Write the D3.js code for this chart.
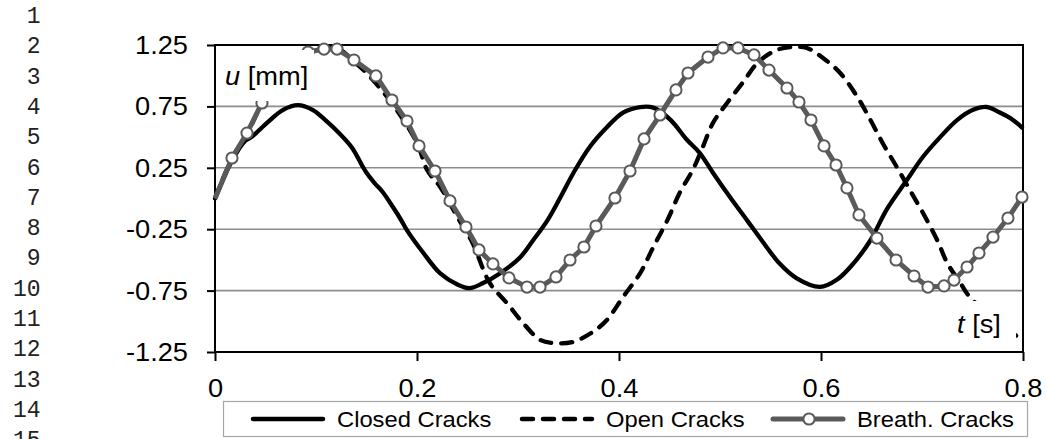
<!DOCTYPE html>
<html><head><meta charset="utf-8">
<script src="https://cdn.jsdelivr.net/npm/d3@7"></script>
<style>body{margin:0;background:#fff}svg{display:block}</style>
</head><body><svg id="c" width="1047" height="439"></svg>
<script>
// ---- data ----
const lineNumbers = ["1","2","3","4","5","6","7","8","9","10","11","12","13","14","15"];
const xTicks = [0, 0.2, 0.4, 0.6, 0.8];
const yTicks = [1.25, 0.75, 0.25, -0.25, -0.75, -1.25];
const seriesNames = ["Closed Cracks", "Open Cracks", "Breath. Cracks"];

const closedT = [0,0.017,0.030,0.036,0.052,0.067,0.082,0.097,0.109,0.122,0.136,0.1455,0.150,0.158,0.166,0.173,0.180,0.186,0.190,0.206,0.223,0.240,0.252,0.265,0.282,0.302,0.315,0.329,0.342,0.355,0.371,0.388,0.404,0.421,0.434,0.451,0.467,0.480,0.493,0.510,0.527,0.543,0.559,0.576,0.599,0.616,0.632,0.649,0.665,0.685,0.701,0.718,0.735,0.750,0.764,0.777,0.790,0.800];
const closedU = [0,0.31,0.47,0.50,0.62,0.72,0.76,0.72,0.64,0.54,0.41,0.27,0.21,0.126,0.053,-0.03,-0.118,-0.20,-0.257,-0.44,-0.61,-0.70,-0.73,-0.69,-0.61,-0.48,-0.34,-0.18,0.01,0.21,0.42,0.58,0.70,0.745,0.74,0.64,0.48,0.37,0.21,0.01,-0.18,-0.36,-0.53,-0.65,-0.72,-0.66,-0.53,-0.34,-0.09,0.15,0.34,0.50,0.64,0.72,0.745,0.70,0.64,0.57];

const openT = [0,0.017,0.032,0.047,0.062,0.077,0.092,0.108,0.124,0.137,0.147,0.173,0.200,0.210,0.223,0.240,0.255,0.272,0.289,0.305,0.322,0.335,0.354,0.374,0.388,0.404,0.421,0.434,0.448,0.460,0.473,0.483,0.493,0.507,0.523,0.537,0.556,0.572,0.586,0.602,0.619,0.636,0.649,0.661,0.675,0.688,0.701,0.715,0.725,0.738,0.748,0.770,0.795,0.800];
const openU = [0,0.33,0.53,0.78,0.96,1.11,1.20,1.235,1.21,1.12,1.046,0.80,0.452,0.232,0.094,-0.151,-0.362,-0.688,-0.851,-1.014,-1.152,-1.177,-1.169,-1.087,-0.989,-0.802,-0.607,-0.395,-0.175,0.045,0.232,0.419,0.615,0.778,0.949,1.103,1.209,1.234,1.226,1.144,1.022,0.827,0.639,0.452,0.257,0.069,-0.118,-0.338,-0.525,-0.688,-0.810,-0.96,-1.128,-1.16];

const breathT = [0,0.0168,0.0317,0.0465,0.0624,0.0772,0.0921,0.1079,0.1208,0.1376,0.1594,0.1752,0.1901,0.2020,0.2178,0.2327,0.2485,0.2614,0.2752,0.2911,0.3089,0.3218,0.3376,0.3515,0.3653,0.3772,0.3960,0.4109,0.4248,0.4406,0.4564,0.4683,0.4881,0.5030,0.5178,0.5337,0.5485,0.5663,0.5782,0.5901,0.6030,0.6149,0.6257,0.6376,0.6554,0.6743,0.6921,0.7059,0.7218,0.7317,0.7446,0.7564,0.7703,0.7851,0.7990];
const breathU = [0,0.330,0.533,0.778,0.965,1.112,1.193,1.217,1.217,1.128,0.998,0.802,0.631,0.428,0.224,-0.020,-0.232,-0.419,-0.533,-0.647,-0.721,-0.721,-0.639,-0.501,-0.395,-0.224,0.004,0.224,0.485,0.680,0.884,1.022,1.152,1.226,1.226,1.169,1.046,0.900,0.786,0.639,0.428,0.273,0.086,-0.134,-0.322,-0.501,-0.631,-0.721,-0.712,-0.664,-0.558,-0.444,-0.314,-0.159,0.012];

// ---- drawing ----
const svg = d3.select("#c");
const FONT = "'Liberation Sans', Arial, sans-serif";
const SX = 1.09;
const x = d3.scaleLinear().domain([0, 0.8]).range([215, 1023]);
const y = d3.scaleLinear().domain([-1.25, 1.25]).range([352, 45]);

// line numbers
svg.append("g").selectAll("text").data(lineNumbers).join("text")
  .attr("transform", (d,i) => `translate(40.5,${23 + i*30.3})`)
  .attr("text-anchor", "end")
  .style("font-family", "'Liberation Mono', monospace")
  .style("font-size", "23px")
  .attr("fill", "#222")
  .text(d => d);

// gridlines
svg.append("g").selectAll("line").data(yTicks.filter(v => Math.abs(v) < 1.2)).join("line")
  .attr("x1", x(0)).attr("x2", x(0.8))
  .attr("y1", d => y(d)).attr("y2", d => y(d))
  .attr("stroke", "#8c8c8c").attr("stroke-width", 1.6);

// axes
const gy = svg.append("g").attr("transform", `translate(${x(0)},0)`)
  .call(d3.axisLeft(y).tickValues(yTicks).tickSize(8).tickSizeOuter(0).tickFormat(d => d.toFixed(2)));
const gx = svg.append("g").attr("transform", `translate(0,${y(-1.25)})`)
  .call(d3.axisBottom(x).tickValues(xTicks).tickSize(9).tickSizeOuter(0).tickFormat(d => d === 0 ? "0" : d.toFixed(1)));
[gx, gy].forEach(g => {
  g.selectAll("path").remove();
  g.selectAll("line").attr("stroke", "#000").attr("stroke-width", 2);
  g.selectAll("text").attr("fill", "#000").style("font-family", FONT).style("font-size", "25px");
});
gy.selectAll("text").attr("x", -27 / SX).attr("dy", "0.34em").attr("transform", `scale(${SX},1)`);
gx.selectAll("text").attr("y", 45).attr("dy", 0).attr("transform", `scale(${SX},1)`);

// plot border
svg.append("rect").attr("x", x(0)).attr("y", y(1.25))
  .attr("width", x(0.8) - x(0)).attr("height", y(-1.25) - y(1.25))
  .attr("fill", "none").attr("stroke", "#000").attr("stroke-width", 2);

// series
const closed = closedT.map((t,i) => [t, closedU[i]]);
const open = openT.map((t,i) => [t, openU[i]]);
const breath = breathT.map((t,i) => [t, breathU[i]]);
const smooth = d3.line().x(d => x(d[0])).y(d => y(d[1])).curve(d3.curveCatmullRom.alpha(0.5));
const straight = d3.line().x(d => x(d[0])).y(d => y(d[1]));

svg.append("path").datum(closed).attr("d", smooth)
  .attr("fill", "none").attr("stroke", "#000").attr("stroke-width", 4.3).attr("stroke-linejoin", "round");
svg.append("path").datum(open).attr("d", smooth)
  .attr("fill", "none").attr("stroke", "#000").attr("stroke-width", 4.3)
  .attr("stroke-dasharray", "11,10").attr("stroke-linecap", "round");
svg.append("path").datum(breath).attr("d", straight)
  .attr("fill", "none").attr("stroke", "#5a5a5a").attr("stroke-width", 5).attr("stroke-linejoin", "round");
svg.append("g").selectAll("circle").data(breath.slice(1)).join("circle")
  .attr("cx", d => x(d[0])).attr("cy", d => y(d[1])).attr("r", 5.6)
  .attr("fill", "#fff").attr("stroke", "#5a5a5a").attr("stroke-width", 2);

// axis title boxes
svg.append("rect").attr("x", 217).attr("y", 50).attr("width", 97).attr("height", 51).attr("fill", "#fff");
const ut = svg.append("text").attr("transform", `translate(225,85) scale(${SX},1)`)
  .style("font-family", FONT).style("font-size", "25px").attr("fill", "#000");
ut.append("tspan").style("font-style", "italic").text("u");
ut.append("tspan").text(" [mm]");

svg.append("rect").attr("x", 952).attr("y", 301).attr("width", 64).attr("height", 38).attr("fill", "#fff");
const tt = svg.append("text").attr("transform", `translate(957,333) scale(${SX},1)`)
  .style("font-family", FONT).style("font-size", "25px").attr("fill", "#000");
tt.append("tspan").style("font-style", "italic").text("t");
tt.append("tspan").text(" [s]");

// legend
const lg = svg.append("g");
lg.append("rect").attr("x", 223.5).attr("y", 401.5).attr("width", 804).attr("height", 35)
  .attr("fill", "#fff").attr("stroke", "#a6a6a6").attr("stroke-width", 1.2);
const legX = [253, 522, 773];
const items = lg.selectAll("g.item").data(seriesNames).join("g").attr("class", "item")
  .attr("transform", (d,i) => `translate(${legX[i]},419)`);
items.append("line").attr("x1", 0).attr("x2", 70).attr("y1", 0).attr("y2", 0)
  .attr("stroke", (d,i) => i === 2 ? "#5a5a5a" : "#000")
  .attr("stroke-width", (d,i) => i === 2 ? 5 : 4.5)
  .attr("stroke-linecap", "round")
  .attr("stroke-dasharray", (d,i) => i === 1 ? "11,10" : null);
items.filter((d,i) => i === 2).append("circle").attr("cx", 36).attr("cy", 0).attr("r", 5.6)
  .attr("fill", "#fff").attr("stroke", "#5a5a5a").attr("stroke-width", 2);
items.append("text").attr("transform", `translate(${84},8) scale(1.08,1)`)
  .style("font-family", FONT).style("font-size", "22px").attr("fill", "#000")
  .text(d => d);
</script></body></html>
